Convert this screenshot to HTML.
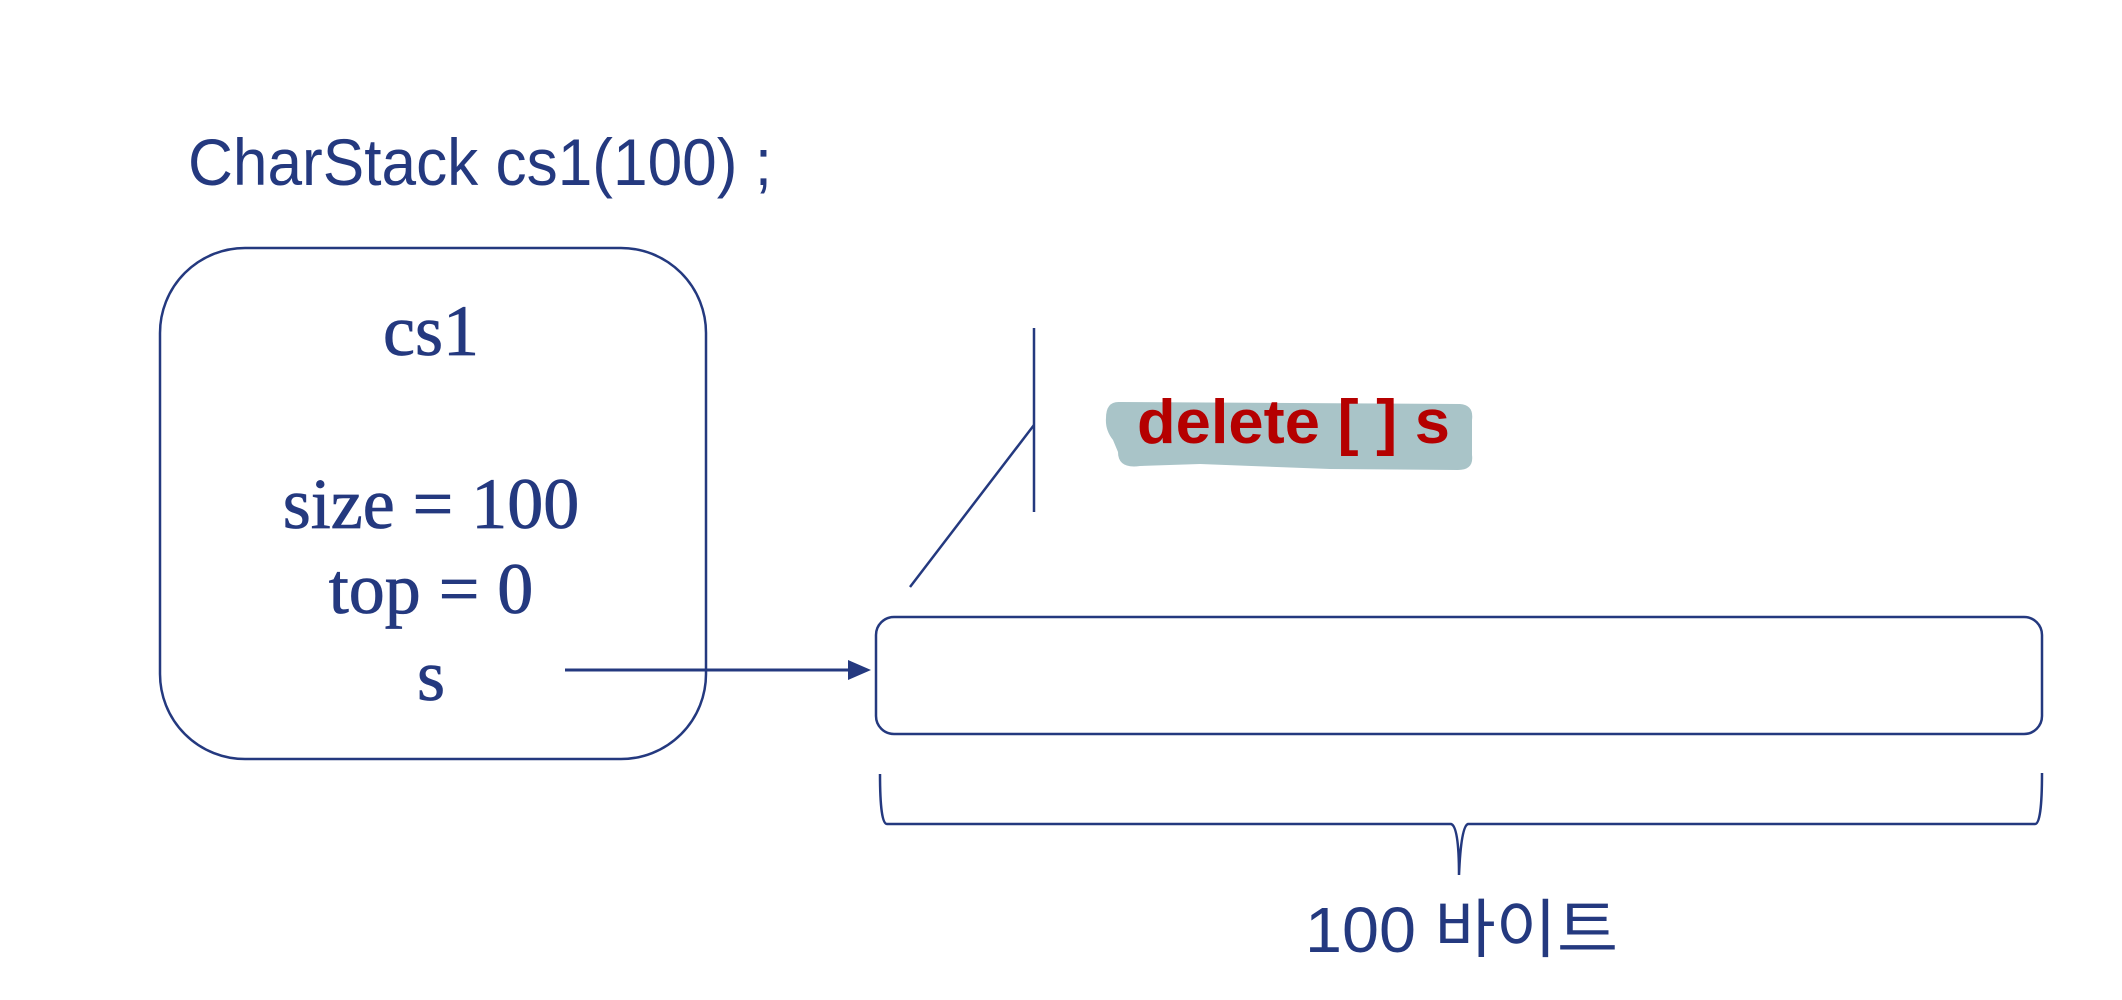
<!DOCTYPE html>
<html><head><meta charset="utf-8"><style>
html,body{margin:0;padding:0;background:#fff;}
svg{display:block;}
</style></head><body>
<svg width="2122" height="1000" viewBox="0 0 2122 1000" xmlns="http://www.w3.org/2000/svg">
<g fill="#24397f" font-family="'Liberation Sans','Noto Sans CJK KR',sans-serif">
<text x="188" y="185" font-size="66" textLength="584" lengthAdjust="spacingAndGlyphs">CharStack cs1(100) ;</text>
</g>
<rect x="160" y="248" width="546" height="511" rx="85" ry="85" fill="none" stroke="#24397f" stroke-width="2.5"/>
<g fill="#24397f" stroke="#24397f" stroke-width="0.8" font-family="'Liberation Serif',serif" font-size="72" text-anchor="middle">
<text x="431" y="355">cs1</text>
<text x="431" y="528">size = 100</text>
<text x="431" y="613">top = 0</text>
<text x="431" y="700">s</text>
</g>
<line x1="565" y1="670" x2="852" y2="670" stroke="#24397f" stroke-width="3"/>
<polygon points="848,660 871,670 848,680" fill="#24397f"/>
<rect x="876" y="617" width="1166" height="117" rx="18" ry="18" fill="none" stroke="#24397f" stroke-width="2.5"/>
<line x1="1034" y1="328" x2="1034" y2="512" stroke="#24397f" stroke-width="2.5"/>
<line x1="1034" y1="425" x2="910" y2="587" stroke="#24397f" stroke-width="2.5"/>
<path d="M880,774 Q880,824 887,824 L1451,824 Q1459,826 1459,875 Q1461,826 1468,824 L2035,824 Q2042,824 2042,773" fill="none" stroke="#24397f" stroke-width="2.5"/>
<path d="M1120,402 L1460,404 Q1474,405 1472,420 L1472,455 Q1474,470 1458,470 L1330,469 L1200,464 L1140,466 Q1118,469 1118,452 L1113,440 Q1105,430 1106,418 Q1106,401 1120,402 Z" fill="#a9c4c8"/>
<text x="1137" y="443" font-family="'Liberation Sans',sans-serif" font-weight="bold" font-size="62" fill="#b50000" textLength="313" lengthAdjust="spacingAndGlyphs">delete [ ] s</text>
<text x="1305" y="952" font-family="'Liberation Sans','Noto Sans CJK KR',sans-serif" font-size="64" fill="#24397f" textLength="313" lengthAdjust="spacingAndGlyphs">100 바이트</text>
</svg>
</body></html>
